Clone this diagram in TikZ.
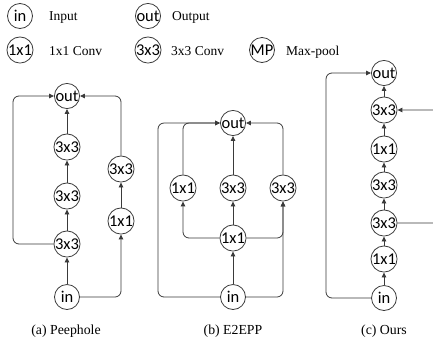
\documentclass[tikz,border=0pt]{standalone}
\usepackage{fontspec}
\setmainfont{Liberation Serif}
\newfontfamily\nodefont{Carlito}
\usetikzlibrary{arrows.meta}
\definecolor{ln}{HTML}{3A3A3A}
\begin{document}
\begin{tikzpicture}[x=1pt,y=-1pt,
  op/.style={circle,draw=ln,line width=0.8pt,minimum size=25pt,inner sep=0pt,font=\nodefont\fontsize{16.5}{16}\selectfont},
  lbl/.style={anchor=base west,inner sep=0pt,font=\fontsize{13.5}{14}\selectfont},
  captext/.style={anchor=base,inner sep=0pt,font=\fontsize{13.8}{14}\selectfont},
  conn/.style={draw=ln,line width=0.8pt,rounded corners=6pt},
  arr/.style={conn,-{Triangle[length=5pt,width=4.5pt]}}]
\useasboundingbox (0,0) rectangle (433,341);
\clip (0,0) rectangle (433,341);
% legend
\node[op] (lin) at (20,16) {in};
\node[lbl] (tin) at (49,20) {Input};
\node[op] (lout) at (148,16) {out};
\node[lbl] (tout) at (172,20) {Output};
\node[op] (l11) at (20,50) {1x1};
\node[lbl] (t11) at (49,55) {1x1 Conv};
\node[op] (l33) at (148,50) {3x3};
\node[lbl] (t33) at (171,55) {3x3 Conv};
\node[op] (lmp) at (262,50) {MP};
\node[lbl] (tmp) at (286,55) {Max-pool};
% (a) Peephole
\node[op] (aout) at (67,96) {out};
\node[op] (a3) at (67,147) {3x3};
\node[op] (a2) at (67,196) {3x3};
\node[op] (a1) at (67,244) {3x3};
\node[op] (ain) at (67,297) {in};
\node[op] (ar3) at (121,169) {3x3};
\node[op] (ar1) at (121,221) {1x1};
\coordinate (aL) at (13,170);
\draw[arr] (ain) -- (a1);
\draw[arr] (a1) -- (a2);
\draw[arr] (a2) -- (a3);
\draw[arr] (a3) -- (aout);
\draw[arr] (a1.west) -| (aL) |- (aout.west);
\draw[arr] (ain.east) -| (ar1.south);
\draw[arr] (ar1) -- (ar3);
\draw[arr] (ar3.north) |- (aout.east);
\node[captext] (capa) at (66,334) {(a) Peephole};
% (b) E2EPP
\node[op] (bout) at (233,123) {out};
\node[op] (bl) at (183,188) {1x1};
\node[op] (bm) at (233,188) {3x3};
\node[op] (br) at (283,188) {3x3};
\node[op] (bc) at (233,238) {1x1};
\node[op] (bin) at (233,297) {in};
\coordinate (bL) at (158,210);
\draw[arr] (bin) -- (bc);
\draw[arr] (bc) -- (bm);
\draw[arr] (bm) -- (bout);
\draw[arr] (bc.west) -| (bl.south);
\draw[arr] (bc.east) -| (br.south);
\draw[arr] (bin.east) -| (br.south);
\draw[arr] (bin.west) -| (bL) |- (bout.west);
\draw[arr] (bl.north) |- (bout.west);
\draw[arr] (br.north) |- (bout.east);
\node[captext] (capb) at (233,334) {(b) E2EPP};
% (c) Ours
\node[op] (cout) at (384,73) {out};
\node[op] (c6) at (384,110) {3x3};
\node[op] (c5) at (384,149) {1x1};
\node[op] (c4) at (384,185) {3x3};
\node[op] (c3) at (384,223) {3x3};
\node[op] (c2) at (384,259) {1x1};
\node[op] (cin) at (384,298) {in};
\coordinate (cL) at (326,180);
\coordinate (cR) at (445,166);
\draw[arr] (cin) -- (c2);
\draw[arr] (c2) -- (c3);
\draw[arr] (c3) -- (c4);
\draw[arr] (c4) -- (c5);
\draw[arr] (c5) -- (c6);
\draw[arr] (c6) -- (cout);
\draw[arr] (cin.west) -| (cL) |- (cout.west);
\draw[arr] (c3.east) -| (cR) |- (c6.east);
\node[captext] (capc) at (384,334) {(c) Ours};
\end{tikzpicture}
\end{document}
